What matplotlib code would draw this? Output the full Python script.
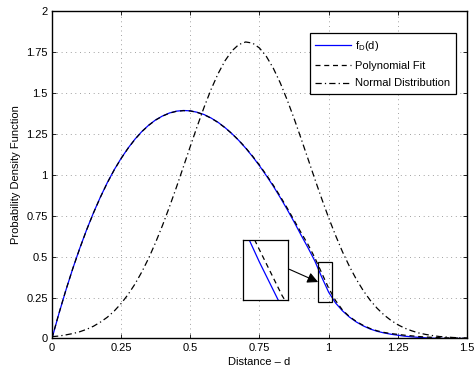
import matplotlib
matplotlib.use('Agg')
import matplotlib.pyplot as plt
from matplotlib.patches import Rectangle

plt.rcParams['font.family'] = ['Liberation Sans', 'DejaVu Sans']

# distance grid (step 0.025)
dist = [i * 0.025 for i in range(61)]

pdf_fd = [0.000, 0.152, 0.294, 0.427, 0.550, 0.664, 0.769, 0.865, 0.953, 1.032,
          1.102, 1.164, 1.219, 1.266, 1.305, 1.337, 1.361, 1.379, 1.390, 1.394,
          1.392, 1.383, 1.369, 1.348, 1.322, 1.290, 1.253, 1.211, 1.164, 1.112,
          1.056, 0.995, 0.931, 0.862, 0.789, 0.713, 0.633, 0.556, 0.474, 0.375,
          0.283, 0.217, 0.169, 0.131, 0.101, 0.077, 0.058, 0.044, 0.034, 0.026,
          0.020, 0.014, 0.010, 0.007, 0.004, 0.002, 0.001, 0.000, 0.000, 0.000,
          0.000]

poly_fit = [0.003, 0.153, 0.295, 0.427, 0.549, 0.663, 0.768, 0.864, 0.952, 1.031,
            1.101, 1.163, 1.218, 1.265, 1.304, 1.336, 1.360, 1.378, 1.389, 1.393,
            1.391, 1.382, 1.368, 1.347, 1.321, 1.289, 1.253, 1.212, 1.166, 1.115,
            1.060, 1.000, 0.937, 0.869, 0.798, 0.723, 0.648, 0.576, 0.494, 0.400,
            0.308, 0.232, 0.174, 0.134, 0.104, 0.080, 0.061, 0.047, 0.037, 0.030,
            0.025, 0.020, 0.016, 0.012, 0.009, 0.007, 0.005, 0.004, 0.003, 0.002,
            0.000]

normal_pdf = [0.011, 0.015, 0.022, 0.030, 0.041, 0.056, 0.075, 0.100, 0.130, 0.168,
              0.214, 0.269, 0.333, 0.408, 0.493, 0.589, 0.694, 0.807, 0.926, 1.050,
              1.175, 1.298, 1.415, 1.523, 1.618, 1.697, 1.758, 1.797, 1.813, 1.806,
              1.776, 1.724, 1.652, 1.563, 1.459, 1.345, 1.224, 1.100, 0.975, 0.854,
              0.738, 0.630, 0.530, 0.441, 0.362, 0.293, 0.234, 0.185, 0.144, 0.111,
              0.084, 0.063, 0.047, 0.034, 0.025, 0.018, 0.012, 0.009, 0.006, 0.004,
              0.003]

xticks = [0, 0.25, 0.5, 0.75, 1, 1.25, 1.5]
xticklabels = ['0', '0.25', '0.5', '0.75', '1', '1.25', '1.5']
yticks = [0, 0.25, 0.5, 0.75, 1, 1.25, 1.5, 1.75, 2]
yticklabels = ['0', '0.25', '0.5', '0.75', '1', '1.25', '1.5', '1.75', '2']

fig = plt.figure(figsize=(4.74, 3.72), dpi=100)
ax = fig.add_axes([0.1097, 0.0901, 0.8755, 0.8793])

ax.plot(dist, pdf_fd, color='#0000ff', lw=0.9, label='f$_\\mathregular{D}$(d)')
ax.plot(dist, poly_fit, color='k', lw=0.9, dashes=(4, 3), label='Polynomial Fit')
ax.plot(dist, normal_pdf, color='k', lw=0.9, dashes=(5, 2.5, 1, 2.5), label='Normal Distribution')

ax.set_xlim(0, 1.5)
ax.set_ylim(0, 2)
ax.set_xticks(xticks)
ax.set_xticklabels(xticklabels)
ax.set_yticks(yticks)
ax.set_yticklabels(yticklabels)
ax.tick_params(direction='in', length=3, width=0.6, labelsize=8, top=True, right=True, pad=3)
ax.grid(True, color='0.5', lw=0.6, linestyle=(0, (1, 4.5)))
for s in ax.spines.values():
    s.set_linewidth(1.0)

ax.set_xlabel('Distance \u2013 d', fontsize=8, labelpad=3)
ax.set_ylabel('Probability Density Function', fontsize=8, labelpad=4)

leg = ax.legend(loc='upper right', bbox_to_anchor=(0.973, 0.933), fontsize=8,
                fancybox=False, framealpha=1, edgecolor='k', handlelength=3.2,
                handletextpad=0.4, borderpad=0.5, labelspacing=0.7, borderaxespad=0)
leg.get_frame().set_linewidth(0.9)

# zoom box and magnified inset
ax.add_patch(Rectangle((0.963, 0.225), 0.05, 0.241, fill=False, ec='k', lw=0.9, zorder=5))
ax.annotate('', xy=(0.962, 0.345), xytext=(0.858, 0.423),
            arrowprops=dict(arrowstyle='-|>', color='k', lw=0.8, mutation_scale=16,
                            shrinkA=0, shrinkB=0))

ins = fig.add_axes([0.5133, 0.1927, 0.0949, 0.1621])
ins.plot(dist, pdf_fd, color='#0000ff', lw=0.9)
ins.plot(dist, poly_fit, color='k', lw=0.9, dashes=(4, 3))
ins.set_xlim(0.957, 1.007)
ins.set_ylim(0.298, 0.42)
ins.set_xticks([])
ins.set_yticks([])
for s in ins.spines.values():
    s.set_linewidth(0.9)

fig.savefig('out.png', dpi=100)
